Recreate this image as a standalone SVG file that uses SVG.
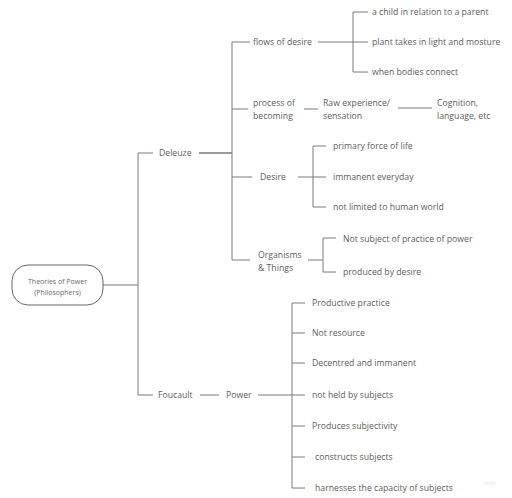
<svg xmlns="http://www.w3.org/2000/svg" width="512" height="498" viewBox="0 0 512 498">
<style>
text{font-family:"Open Sans","Liberation Sans",sans-serif;font-size:8.7px;fill:#5c5c5c}
.small{font-size:7px;fill:#6a6a6a}
.wm{font-size:5px;fill:#ddd}
#connectors path,#connectors line{stroke:#7a7a7a;stroke-width:1;fill:none}
#connectors .thick{stroke-width:1.6}
.box{fill:#fff;stroke:#666;stroke-width:1}
</style>
<rect width="512" height="498" fill="#fff"/>
<g id="connectors">
<line x1="103" y1="285" x2="138" y2="285"/>
<path d="M153,153 H138 V395 H153"/>
<line class="thick" x1="199" y1="153" x2="232" y2="153"/>
<path d="M250,42 H232 V260 H250"/>
<line x1="232" y1="109" x2="248" y2="109"/>
<line x1="232" y1="177" x2="252" y2="177"/>
<line x1="318" y1="42" x2="353" y2="42"/>
<path d="M368,12 H353 V72 H368"/>
<line x1="353" y1="42" x2="368" y2="42"/>
<line x1="304" y1="109" x2="318" y2="109"/>
<line x1="398" y1="108" x2="432" y2="108"/>
<line x1="298" y1="177" x2="326" y2="177"/>
<path d="M326,146 H313 V207 H326"/>
<line x1="308" y1="260" x2="323" y2="260"/>
<path d="M336,238 H323 V272 H336"/>
<line x1="200" y1="395" x2="219" y2="395"/>
<line x1="258" y1="395" x2="305" y2="395"/>
<path d="M305,303 H292 V488 H305"/>
<line x1="292" y1="333" x2="305" y2="333"/>
<line x1="292" y1="363" x2="305" y2="363"/>
<line x1="292" y1="426" x2="305" y2="426"/>
<line x1="292" y1="457" x2="305" y2="457"/>
</g>
<g id="root">
<rect class="box" x="12" y="265" width="91" height="40" rx="16"/>
<text class="small" x="57.5" y="284" text-anchor="middle">Theories of Power</text>
<text class="small" x="57.5" y="295" text-anchor="middle">(Philosophers)</text>
</g>
<g id="deleuze"><text x="159" y="156">Deleuze</text></g>
<g id="flows"><text x="253" y="45">flows of desire</text></g>
<g id="child"><text x="372" y="15">a child in relation to a parent</text></g>
<g id="plant"><text x="372" y="45">plant takes in light and mosture</text></g>
<g id="bodies"><text x="372" y="75">when bodies connect</text></g>
<g id="becoming"><text x="253" y="106">process of</text><text x="253" y="119">becoming</text></g>
<g id="raw"><text x="323" y="106">Raw experience/</text><text x="323" y="119">sensation</text></g>
<g id="cognition"><text x="437" y="106">Cognition,</text><text x="437" y="119">language, etc</text></g>
<g id="desire"><text x="260" y="180">Desire</text></g>
<g id="primary"><text x="333" y="149">primary force of life</text></g>
<g id="immanent"><text x="333" y="180">immanent everyday</text></g>
<g id="notlimited"><text x="333" y="210">not limited to human world</text></g>
<g id="organisms"><text x="258" y="258">Organisms</text><text x="258" y="271">&amp; Things</text></g>
<g id="notsubject"><text x="343" y="242">Not subject of practice of power</text></g>
<g id="produced"><text x="343" y="275">produced by desire</text></g>
<g id="foucault"><text x="158" y="398">Foucault</text></g>
<g id="power"><text x="226" y="398">Power</text></g>
<g id="p1"><text x="312" y="306">Productive practice</text></g>
<g id="p2"><text x="312" y="336">Not resource</text></g>
<g id="p3"><text x="312" y="366">Decentred and immanent</text></g>
<g id="p4"><text x="312" y="398">not held by subjects</text></g>
<g id="p5"><text x="312" y="429">Produces subjectivity</text></g>
<g id="p6"><text x="315" y="460">constructs subjects</text></g>
<g id="p7"><text x="315" y="491">harnesses the capacity of subjects</text></g>
<text class="wm" x="484" y="485">miro</text>
</svg>
